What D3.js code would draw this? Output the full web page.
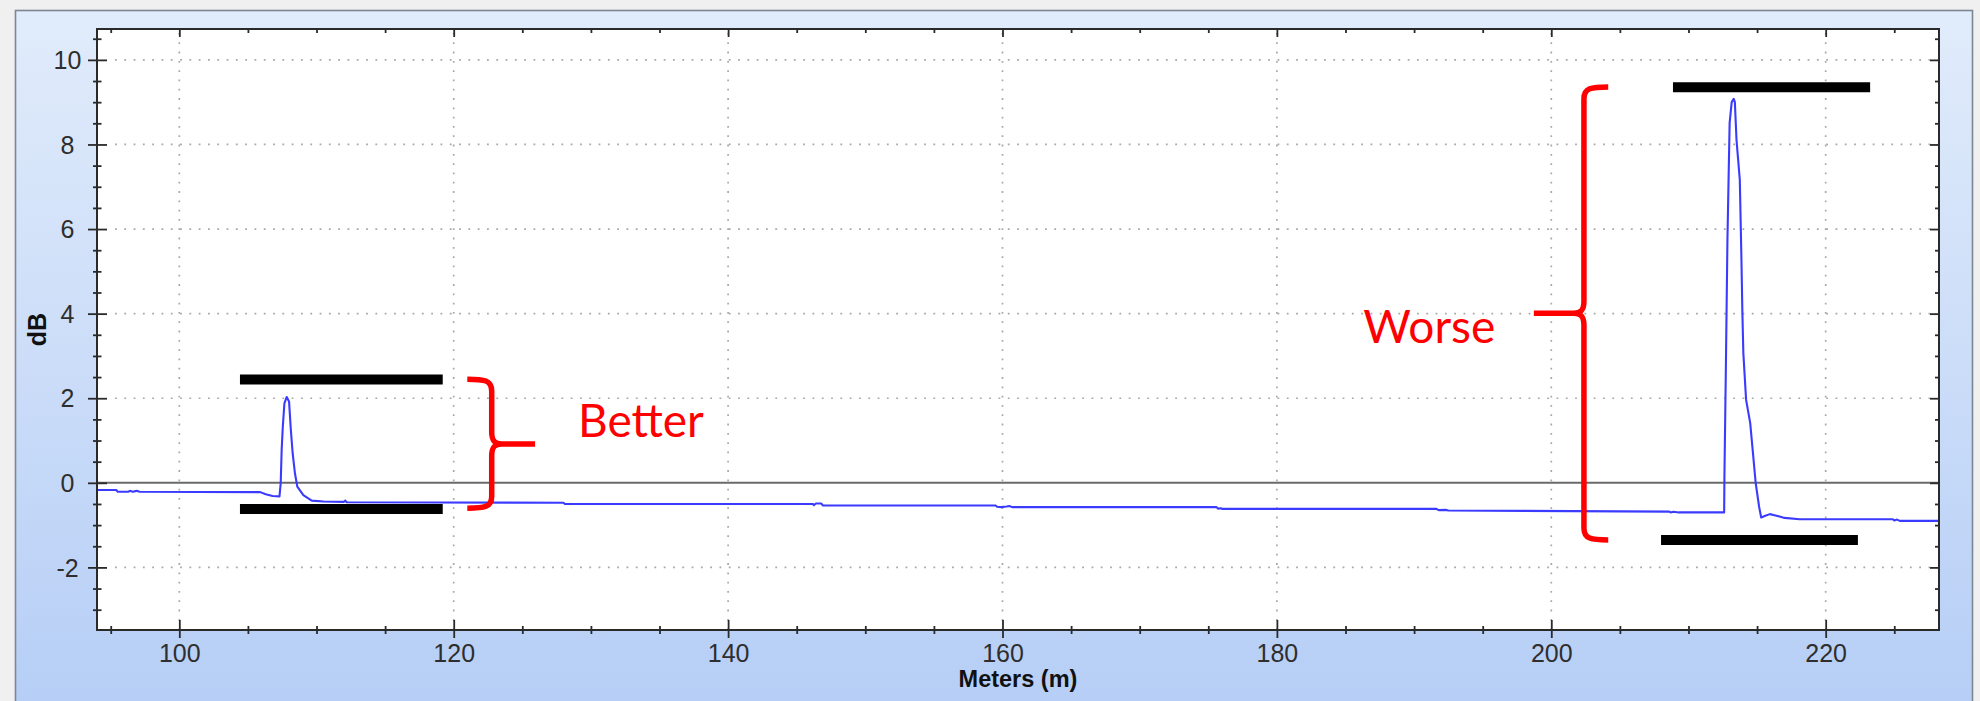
<!DOCTYPE html>
<html>
<head>
<meta charset="utf-8">
<script src="https://cdn.jsdelivr.net/npm/d3@7/dist/d3.min.js"></script>
<style>
  html, body { margin: 0; padding: 0; background: #f0f0f0; }
  svg { display: block; }
</style>
</head>
<body>
<svg id="chart" width="1980" height="701"></svg>
<script>
// Reflectance trace (distance in metres, level in dB)
const traceDistance = [
  94.0, 95.4, 95.5, 96.3, 96.4, 96.6, 96.9, 97.1, 105.9, 106.3, 106.8, 107.3,
  107.39, 107.46, 107.54, 107.66, 107.83, 108.0, 108.12, 108.26, 108.43, 108.6,
  109.04, 109.65, 110.5, 112.0, 112.1, 112.2, 128.0, 128.1,
  146.2, 146.25, 146.4, 146.8, 146.9,
  159.5, 159.6, 159.9, 160.3, 160.5, 160.7,
  175.6, 175.7, 175.9, 176.0,
  191.6, 191.8, 192.3, 192.5,
  208.6, 208.7, 208.9, 209.3,
  212.6, 212.62, 212.72, 212.84, 213.0, 213.15, 213.3, 213.38, 213.5, 213.74,
  213.86, 213.93, 214.0, 214.2, 214.5, 214.7, 214.9, 215.15, 215.3, 215.6,
  215.93, 216.2, 216.7, 217.0, 218.1, 224.9, 225.0, 225.2, 225.4, 228.26
];
const traceLevel = [
  -0.17, -0.17, -0.21, -0.21, -0.19, -0.21, -0.19, -0.21, -0.22, -0.27, -0.31, -0.32,
  -0.01, 0.78, 1.31, 1.88, 2.03, 1.92, 1.29, 0.70, 0.22, -0.09,
  -0.29, -0.42, -0.44, -0.45, -0.42, -0.46, -0.47, -0.50,
  -0.50, -0.53, -0.49, -0.49, -0.535,
  -0.535, -0.565, -0.575, -0.56, -0.55, -0.575,
  -0.575, -0.61, -0.60, -0.615,
  -0.615, -0.645, -0.64, -0.655,
  -0.68, -0.70, -0.685, -0.70,
  -0.70, 0.15, 2.59, 5.75, 8.51, 9.0, 9.08, 9.0, 8.11, 7.17,
  5.27, 4.01, 3.06, 1.96, 1.41, 0.70, -0.01, -0.57, -0.82, -0.78,
  -0.74, -0.76, -0.80, -0.83, -0.86, -0.86, -0.89, -0.87, -0.90, -0.90
];

// Axis ranges and ticks
const xDomain = [94, 228.26];
const yDomain = [-3.48, 10.73];
const xMajorTicks = [100, 120, 140, 160, 180, 200, 220];
const xMinorTicks = [95, 105, 110, 115, 125, 130, 135, 145, 150, 155, 165, 170, 175,
                     185, 190, 195, 205, 210, 215, 225];
const yMajorTicks = [-2, 0, 2, 4, 6, 8, 10];
const yMinorTicks = [-3, -2.5, -1.5, -1, -0.5, 0.5, 1, 1.5, 2.5, 3, 3.5, 4.5, 5, 5.5,
                     6.5, 7, 7.5, 8.5, 9, 9.5, 10.5];
const xTitle = "Meters (m)";
const yTitle = "dB";

// Annotation marks: level bars, braces and labels
const barNames  = ["betterTop", "betterBottom", "worseTop", "worseBottom"];
const barStart  = [104.42, 104.42, 208.87, 208.0];
const barEnd    = [119.2, 119.2, 223.24, 222.35];
const barLevel  = [2.44, -0.62, 9.35, -1.35];

const braceLabels = ["Better", "Worse"];
const braceSpine  = [122.77, 202.38];   // distance of the vertical stroke
const braceArmEnd = [120.99, 204.15];   // distance where the arms finish
const braceTip    = [125.93, 198.73];   // distance of the pointer tip
const braceTop    = [2.45, 9.36];
const braceBottom = [-0.60, -1.35];
const braceMiddle = [0.92, 4.01];
const labelX      = [129.06, 186.3];
const labelY      = [1.09, 3.30];

const svg = d3.select("#chart");

// Panel background
const defs = svg.append("defs");
const grad = defs.append("linearGradient").attr("id", "panelGrad")
  .attr("x1", 0).attr("y1", 0).attr("x2", 0).attr("y2", 1);
grad.append("stop").attr("offset", "0%").attr("stop-color", "#e1ecfb");
grad.append("stop").attr("offset", "100%").attr("stop-color", "#b6cef6");

svg.append("rect").attr("width", 1980).attr("height", 701).attr("fill", "#f0f0f0");
svg.append("rect")
  .attr("x", 15.5).attr("y", 10.5).attr("width", 1957).attr("height", 700)
  .attr("fill", "url(#panelGrad)").attr("stroke", "#7c8794").attr("stroke-width", 1.6);

const plot = { left: 97, top: 29, right: 1939, bottom: 630 };
const W = plot.right - plot.left, H = plot.bottom - plot.top;

const x = d3.scaleLinear().domain(xDomain).range([0, W]);
const y = d3.scaleLinear().domain(yDomain).range([H, 0]);

const g = svg.append("g").attr("transform", `translate(${plot.left},${plot.top})`);
g.append("rect").attr("width", W).attr("height", H).attr("fill", "#ffffff");

// Dotted grid
const grid = g.append("g").attr("stroke", "#a8a8a8").attr("stroke-width", 1.7)
  .attr("stroke-dasharray", "1.8 7.5").attr("fill", "none");
grid.selectAll("line.v").data(xMajorTicks).join("line").attr("class", "v")
  .attr("x1", d => x(d)).attr("x2", d => x(d)).attr("y1", H).attr("y2", 0);
grid.selectAll("line.h").data(yMajorTicks.filter(d => d !== 0)).join("line").attr("class", "h")
  .attr("x1", 18).attr("x2", W).attr("y1", d => y(d)).attr("y2", d => y(d));

// Zero reference line
g.append("line").attr("x1", 0).attr("x2", W).attr("y1", y(0)).attr("y2", y(0))
  .attr("stroke", "#6a6a6a").attr("stroke-width", 2);

// Trace
const pts = traceDistance.map((d, i) => [d, traceLevel[i]]);
g.append("path").datum(pts)
  .attr("fill", "none").attr("stroke", "#3b3bff").attr("stroke-width", 2.1)
  .attr("stroke-linejoin", "round")
  .attr("d", d3.line().x(d => x(d[0])).y(d => y(d[1])));

// Axes: ticks on all four sides, major ticks cross the frame
function styleAxis(sel) {
  sel.select(".domain").remove();
  sel.selectAll(".tick line").attr("stroke", "#2a2a2a").attr("stroke-width", 1.8);
  return sel;
}
const noLabel = () => "";
const plainNumber = d => String(d);   // keeps an ASCII hyphen for negatives

// left
styleAxis(g.append("g").call(d3.axisLeft(y).tickValues(yMinorTicks).tickSize(4).tickFormat(noLabel)));
styleAxis(g.append("g").call(d3.axisRight(y).tickValues(yMinorTicks).tickSize(4.5).tickFormat(noLabel)));
styleAxis(g.append("g").call(d3.axisRight(y).tickValues(yMajorTicks).tickSize(10).tickFormat(noLabel)));
const yAx = styleAxis(g.append("g").call(d3.axisLeft(y).tickValues(yMajorTicks).tickSize(9)
  .tickFormat(plainNumber)));
yAx.selectAll(".tick text")
  .attr("x", -29.5).attr("dy", "0.35em").attr("text-anchor", "middle")
  .attr("font-family", "'Liberation Sans', Arial, sans-serif").attr("font-size", 25)
  .attr("fill", "#2e2e2e");

// right
styleAxis(g.append("g").attr("transform", `translate(${W},0)`)
  .call(d3.axisLeft(y).tickValues(yMinorTicks).tickSize(4).tickFormat(noLabel)));
styleAxis(g.append("g").attr("transform", `translate(${W},0)`)
  .call(d3.axisLeft(y).tickValues(yMajorTicks).tickSize(9).tickFormat(noLabel)));

// top
styleAxis(g.append("g").call(d3.axisBottom(x).tickValues(xMinorTicks).tickSize(4).tickFormat(noLabel)));
styleAxis(g.append("g").call(d3.axisBottom(x).tickValues(xMajorTicks).tickSize(8).tickFormat(noLabel)));

// bottom
styleAxis(g.append("g").attr("transform", `translate(0,${H})`)
  .call(d3.axisTop(x).tickValues(xMinorTicks).tickSize(4).tickFormat(noLabel)));
styleAxis(g.append("g").attr("transform", `translate(0,${H})`)
  .call(d3.axisBottom(x).tickValues(xMinorTicks).tickSize(4).tickFormat(noLabel)));
styleAxis(g.append("g").attr("transform", `translate(0,${H})`)
  .call(d3.axisTop(x).tickValues(xMajorTicks).tickSize(10).tickFormat(noLabel)));
const xAx = styleAxis(g.append("g").attr("transform", `translate(0,${H})`)
  .call(d3.axisBottom(x).tickValues(xMajorTicks).tickSize(8).tickFormat(plainNumber)));
xAx.selectAll(".tick text")
  .attr("y", 32).attr("dy", 0)
  .attr("font-family", "'Liberation Sans', Arial, sans-serif").attr("font-size", 25)
  .attr("fill", "#2e2e2e");

// Frame
g.append("rect").attr("width", W).attr("height", H).attr("fill", "none")
  .attr("stroke", "#2a2a2a").attr("stroke-width", 2);

// Axis titles
svg.append("text").text(xTitle)
  .attr("x", plot.left + W / 2).attr("y", 687).attr("text-anchor", "middle")
  .attr("font-family", "'Liberation Sans', Arial, sans-serif").attr("font-weight", "bold")
  .attr("font-size", 23.5).attr("fill", "#111");
svg.append("text").text(yTitle)
  .attr("transform", `translate(46,${plot.top + H / 2}) rotate(-90)`)
  .attr("text-anchor", "middle")
  .attr("font-family", "'Liberation Sans', Arial, sans-serif").attr("font-weight", "bold")
  .attr("font-size", 25).attr("fill", "#111");

// Level bars
g.selectAll("line.bar").data(barNames).join("line").attr("class", "bar")
  .attr("x1", (d, i) => x(barStart[i])).attr("x2", (d, i) => x(barEnd[i]))
  .attr("y1", (d, i) => y(barLevel[i])).attr("y2", (d, i) => y(barLevel[i]))
  .attr("stroke", "#000").attr("stroke-width", 10);

// Curly braces
function bracePath(i) {
  const xs = x(braceSpine[i]), xe = x(braceArmEnd[i]), xt = x(braceTip[i]);
  const yt = y(braceTop[i]), yb = y(braceBottom[i]), ym = y(braceMiddle[i]);
  const a = Math.sign(xe - xs), t = Math.sign(xt - xs);
  const arm = Math.abs(xe - xs);
  const p = d3.path();
  p.moveTo(xe, yt);
  p.bezierCurveTo(xs + a * arm * 0.3, yt, xs, yt + 1, xs, yt + 12);
  p.lineTo(xs, ym - 12);
  p.bezierCurveTo(xs, ym - 3, xs + t * 3, ym, xs + t * 10, ym);
  p.lineTo(xt, ym);
  p.moveTo(xs + t * 10, ym);
  p.bezierCurveTo(xs + t * 3, ym, xs, ym + 3, xs, ym + 12);
  p.lineTo(xs, yb - 12);
  p.bezierCurveTo(xs, yb - 1, xs + a * arm * 0.3, yb, xe, yb);
  return p.toString();
}
g.selectAll("path.brace").data(braceLabels).join("path").attr("class", "brace")
  .attr("d", (d, i) => bracePath(i))
  .attr("fill", "none").attr("stroke", "#ff0000").attr("stroke-width", 5.5);

g.selectAll("text.note").data(braceLabels).join("text").attr("class", "note")
  .text(d => d)
  .attr("x", (d, i) => x(labelX[i])).attr("y", (d, i) => y(labelY[i]))
  .attr("font-family", "Lato, 'Open Sans', sans-serif").attr("font-size", 46)
  .attr("fill", "#ff0000");
</script>
</body>
</html>
